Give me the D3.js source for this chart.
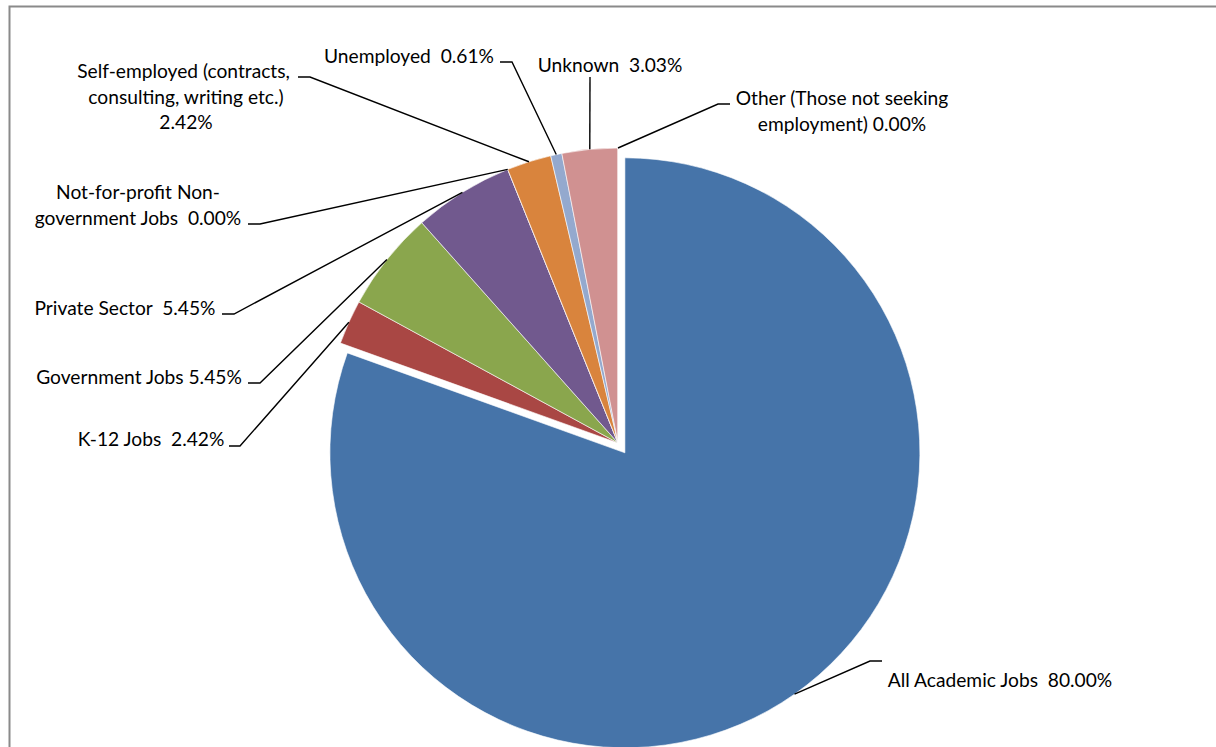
<!DOCTYPE html>
<html>
<head>
<meta charset="utf-8">
<script src="https://cdn.jsdelivr.net/npm/d3@7"></script>
<style>
  html, body { margin: 0; padding: 0; background: #fff; overflow: hidden; }
  text { font-family: Lato, "Open Sans", sans-serif; fill: #000; white-space: pre; }
</style>
</head>
<body>
<svg id="chart" width="1216" height="747"></svg>
<script>
// ---- data ----
const categories = [
  "All Academic Jobs",
  "K-12 Jobs",
  "Government Jobs",
  "Private Sector",
  "Not-for-profit Non-government Jobs",
  "Self-employed (contracts, consulting, writing etc.)",
  "Unemployed",
  "Unknown",
  "Other (Those not seeking employment)"
];
const values = [80.00, 2.42, 5.45, 5.45, 0.00, 2.42, 0.61, 3.03, 0.00];
const labelLines = [
  ["All Academic Jobs  80.00%"],
  ["K-12 Jobs  2.42%"],
  ["Government Jobs 5.45%"],
  ["Private Sector  5.45%"],
  ["Not-for-profit Non-", "government Jobs  0.00%"],
  ["Self-employed (contracts, ", "consulting, writing etc.)", "2.42%"],
  ["Unemployed  0.61%"],
  ["Unknown  3.03%"],
  ["Other (Those not seeking", "employment) 0.00%"]
];
const colors = ["#4674A9", "#A94744", "#8AA64D", "#71598E", "#3FA3BC", "#D9843D", "#94A9CE", "#D09191", "#B3C79A"];

// ---- layout ----
const cx = 618, cy = 443, R = 295, explode = 12;
// label placement: [anchor x, first baseline y, elbow points (from slice to text)]
const labelLayout = [
  {x: 1000, y: 687, path: [[870, 661], [882, 661]]},
  {x: 151,  y: 446, path: [[240, 446], [229, 446]]},
  {x: 139,  y: 384, path: [[260, 383], [248, 383]]},
  {x: 125,  y: 315, path: [[234, 314], [222, 314]]},
  {x: 138,  y: 199, path: [[260, 224], [248, 224]]},
  {x: 186,  y: 78,  path: [[310, 77], [298, 77]]},
  {x: 409,  y: 63,  path: [[512, 62], [500, 62]]},
  {x: 610,  y: 72,  path: [[590, 77]]},
  {x: 842,  y: 105, path: [[718, 104], [730, 104]]}
];
const lineGap = 25.5;

const svg = d3.select("#chart");

// outer chart border (cropped on right/bottom)
svg.append("rect")
  .attr("x", 9.5).attr("y", 6.5)
  .attr("width", 1400).attr("height", 1000)
  .attr("fill", "#fff").attr("stroke", "#8a8a8a").attr("stroke-width", 2);

const pie = d3.pie().sort(null).value(d => d).startAngle(0).endAngle(2 * Math.PI);
const arcs = pie(values);
const arc = d3.arc().innerRadius(0).outerRadius(R);
const rim = d3.arc().innerRadius(R).outerRadius(R);

function offset(d, i) {
  if (i !== 0) return [0, 0];
  const a = (d.startAngle + d.endAngle) / 2;
  return [explode * Math.sin(a), -explode * Math.cos(a)];
}

const g = svg.append("g").attr("transform", `translate(${cx},${cy})`);

g.selectAll("path.slice")
  .data(arcs)
  .join("path")
  .attr("class", "slice")
  .attr("d", arc)
  .attr("transform", (d, i) => { const o = offset(d, i); return `translate(${o[0]},${o[1]})`; })
  .attr("fill", (d, i) => colors[i])
  .attr("stroke", "#fff")
  .attr("stroke-width", 0.6)
  .attr("stroke-linejoin", "round");

// leader lines
const lineGen = d3.line();
arcs.forEach((d, i) => {
  const o = offset(d, i);
  const c = rim.centroid(d);
  const start = [cx + c[0] + o[0], cy + c[1] + o[1]];
  const pts = [start].concat(labelLayout[i].path);
  svg.append("path")
    .attr("d", lineGen(pts))
    .attr("fill", "none")
    .attr("stroke", "#000")
    .attr("stroke-width", 1.4);
});

// labels
labelLines.forEach((lines, i) => {
  const L = labelLayout[i];
  const t = svg.append("text")
    .attr("text-anchor", "middle")
    .attr("font-size", 19.2)
    .attr("xml:space", "preserve");
  lines.forEach((ln, k) => {
    t.append("tspan").attr("x", L.x).attr("y", L.y + k * lineGap).text(ln);
  });
});
</script>
</body>
</html>
